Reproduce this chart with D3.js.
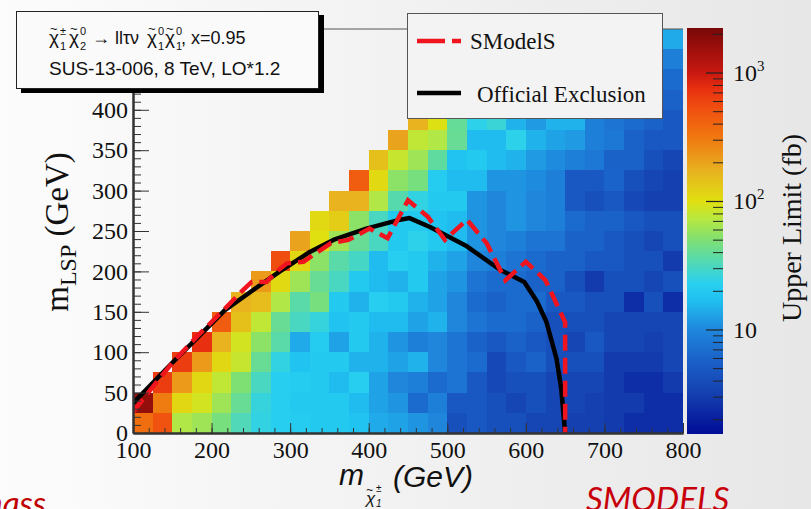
<!DOCTYPE html>
<html>
<head>
<meta charset="utf-8">
<script src="https://cdn.jsdelivr.net/npm/d3@7"></script>
<style>
  body { margin: 0; }
  svg { display: block; }
</style>
</head>
<body>
<svg id="chart" width="811" height="509"></svg>
<script>
"use strict";

// lower edges of the grid bins (GeV)
var charginoBins = [100,125,150,175,200,225,250,275,300,325,350,375,400,425,450,475,500,525,550,575,600,625,650,675,700,725,750,775];
var lspBins = [0,25,50,75,100,125,150,175,200,225,250,275,300,325,350,375,400,425,450,475];
var binWidth = 25;

// upper limit (fb), one row per lsp bin, bottom row first
var upperLimit = [
  [360,500,70,62,47,33,25,22,21,20,20,18,14,13,11.5,10,4.2,5,4.2,4.2,3.5,3.5,3.2,3.2,3.0,2.5,2.5,2.5],
  [1700,300,110,90,62,41,26,22,20,20,20,16.5,13,11.5,6.7,9,5,5,4.2,3.5,4.2,3.5,3.5,3.2,3.0,3.0,2.5,2.5],
  [null,650,220,110,78,50,31,22,21,20,16.5,22,13,10,9,6.7,7.7,5,3.8,4.2,4.2,3.5,3.5,3.5,3.0,2.5,2.5,3.0],
  [null,null,650,220,110,82,41,25,18,20,20,15,15,13,15,10,7.7,6.7,3.8,5,5.8,4.2,4.2,4.2,3.0,3.0,3.0,3.5],
  [null,null,null,750,170,90,55,36,14,21,13,20,15,11.5,9,10,7.7,5.8,5,5.8,5,4.2,3.5,5,3.5,3.5,3.2,3.5],
  [null,null,null,null,450,145,78,41,31,26,18,20,16.5,16.5,13,15,10,7.7,6.7,6.7,5.8,4.2,4.2,4.2,3.5,3.5,3.5,3.5],
  [null,null,null,null,null,170,150,70,36,47,20,15,22,20,15,13,10,6.7,5.8,6.7,6.7,5,5,4.2,4.2,2.5,4.2,2.5],
  [null,null,null,null,null,null,220,108,62,41,31,20,16.5,15,20,13,11.5,7.7,6.7,6.7,5.8,5.8,4.2,3.0,4.2,4.2,3.5,4.2],
  [null,null,null,null,null,null,null,550,110,55,36,30,16.5,22,20,15,13,10,9,7.7,6.7,5.8,5.8,5,5,4.2,4.2,3.0],
  [null,null,null,null,null,null,null,null,200,100,62,41,31,20,24,20,16.5,11.5,10,9,7.7,7.7,5.8,5.8,5,4.2,3.5,4.2],
  [null,null,null,null,null,null,null,null,null,108,125,55,31,20,20,18,16.5,11.5,10,11.5,10,9,6.7,5.8,5.8,5,4.2,4.2],
  [null,null,null,null,null,null,null,null,null,null,170,170,70,35,25,20,20,11.5,10,11.5,10,9,5,4.2,5,3.8,3.2,3.2],
  [null,null,null,null,null,null,null,null,null,null,null,450,108,55,47,21,16.5,16.5,11.5,11.5,10.5,9,5,5,6,4.2,3.5,3.2],
  [null,null,null,null,null,null,null,null,null,null,null,null,145,82,62,38,18,20,16.5,15,12,10.5,9,8,5.8,5.8,4.2,3.5],
  [null,null,null,null,null,null,null,null,null,null,null,null,null,200,78,70,41,16.5,16.5,24,15,13,12,9,8,5.8,5,5],
  [null,null,null,null,null,null,null,null,null,null,null,null,null,null,170,98,40,24,27,15,12,15,15,9,7.7,6.7,5.8,5],
  [null,null,null,null,null,null,null,null,null,null,null,null,null,null,null,250,120,50,30,20,16,13,11,9,8,7,6,5.8],
  [null,null,null,null,null,null,null,null,null,null,null,null,null,null,null,null,250,120,50,25,18,14,12,10,9,8,7,6.7],
  [null,null,null,null,null,null,null,null,null,null,null,null,null,null,null,null,null,280,130,50,25,18,14,12,10,9,8,9],
  [null,null,null,null,null,null,null,null,null,null,null,null,null,null,null,null,null,null,300,130,50,25,18,15,13,12,12,14]
];

// exclusion contours
var officialMchi = [100,150,183,217,253,287,325,355,397,440,452,478,525,567,598,614,626,639,645,650];
var officialMlsp = [37,87,119,152,177,200,224,239,253,264,266,255,231,202,187,163,138,92,55,0];
var smodelsMchi = [100,130,151,181,215,240,251,270,283,296,317,335,352,374,401,424,450,475,497,525,550,574,600,625,650,650];
var smodelsMlsp = [26,63,88,119,152,177,187,187,200,210,212,224,235,239,253,241,288,268,239,264,235,189,212,189,137,0];

var xTicks = [100,200,300,400,500,600,700,800];
var yTicks = [0,50,100,150,200,250,300,350,400];
var zMajor = [10,100,1000];
var zMinor = [2,3,4,5,6,7,8,9,20,30,40,50,60,70,80,90,200,300,400,500,600,700,800,900,2000];

var paletteStops = [0,0.1,0.18,0.256,0.33,0.37,0.42,0.48,0.53,0.573,0.65,0.73,0.8,0.85,0.89,1];
var paletteColors = ["#000c96","#1540b0","#1a60c8","#1f86dc","#20c0f0","#28d0f0","#50d8b8","#80e070","#b8e840","#e0e010","#e8b020","#f07810","#f05010","#e83010","#c81810","#780808"];

var serif = "'Liberation Serif', 'Times New Roman', serif";
var sans = "'Liberation Sans', Arial, sans-serif";

var svg = d3.select("#chart");

// slide background
var defs = svg.append("defs");
var bg = defs.append("linearGradient").attr("id", "bg").attr("x1", 0).attr("x2", 1).attr("y1", 0).attr("y2", 0);
bg.append("stop").attr("offset", 0).attr("stop-color", "#fcfcfc");
bg.append("stop").attr("offset", 1).attr("stop-color", "#e7e7e7");
svg.append("rect").attr("width", 811).attr("height", 509).attr("fill", "url(#bg)");

var x = d3.scaleLinear().domain([100, 800]).range([133, 683]);
var y = d3.scaleLinear().domain([0, 500]).range([433, 29]);
var zT = d3.scaleLog().domain([1.55, 2240]).range([0, 1]).clamp(true);
var palette = d3.scaleLinear().domain(paletteStops).range(paletteColors).interpolate(d3.interpolateRgb);
function colorOf(v) { return palette(zT(v)); }

defs.append("clipPath").attr("id", "plotClip")
  .append("rect").attr("x", 133).attr("y", 29).attr("width", 550).attr("height", 404);

// heat map cells
var cells = [];
upperLimit.forEach(function (row, r) {
  row.forEach(function (v, c) {
    if (v != null) cells.push({mchi: charginoBins[c], mlsp: lspBins[r], v: v});
  });
});
svg.append("g").attr("shape-rendering", "crispEdges")
  .selectAll("rect").data(cells).enter().append("rect")
  .attr("x", function (d) { return x(d.mchi); })
  .attr("y", function (d) { return y(d.mlsp + binWidth); })
  .attr("width", function (d) { return x(d.mchi + binWidth) - x(d.mchi); })
  .attr("height", function (d) { return y(d.mlsp) - y(d.mlsp + binWidth); })
  .attr("fill", function (d) { return colorOf(d.v); });

// contours
var line = d3.line().x(function (d) { return x(d[0]); }).y(function (d) { return y(d[1]); });
var lines = svg.append("g").attr("clip-path", "url(#plotClip)");
lines.append("path")
  .attr("d", line(d3.zip(officialMchi, officialMlsp)))
  .attr("fill", "none").attr("stroke", "#000").attr("stroke-width", 4.5).attr("stroke-linejoin", "round");
lines.append("path")
  .attr("d", line(d3.zip(smodelsMchi, smodelsMlsp)))
  .attr("fill", "none").attr("stroke", "#f0141e").attr("stroke-width", 4.5)
  .attr("stroke-dasharray", "16,7");

// frame + axes
svg.append("line").attr("x1", 133).attr("x2", 683).attr("y1", 29).attr("y2", 29).attr("stroke", "#555").attr("stroke-width", 1);

function styleAxis(g) {
  g.attr("font-family", serif).attr("font-size", 24);
  g.selectAll("text").attr("fill", "#111");
  g.selectAll("line").attr("stroke", "#333");
  g.select(".domain").attr("stroke", "#333").attr("stroke-width", 2);
}

var xMinor = d3.range(100, 801, 20);
svg.append("g").attr("transform", "translate(0,433)")
  .call(d3.axisBottom(x).tickValues(xMinor).tickSize(-5).tickSizeOuter(0).tickFormat(""))
  .call(styleAxis);
svg.append("g").attr("transform", "translate(0,433)")
  .call(d3.axisBottom(x).tickValues(xTicks).tickSize(-10).tickSizeOuter(0).tickPadding(8))
  .call(styleAxis);

var yMinor = d3.range(0, 501, 10);
svg.append("g").attr("transform", "translate(133,0)")
  .call(d3.axisLeft(y).tickValues(yMinor).tickSize(-8).tickSizeOuter(0).tickFormat(""))
  .call(styleAxis);
svg.append("g").attr("transform", "translate(133,0)")
  .call(d3.axisLeft(y).tickValues(yTicks).tickSize(-16).tickSizeOuter(0).tickPadding(5))
  .call(styleAxis);

// colour bar
var zy = d3.scaleLog().domain([1.55, 2240]).range([434, 28]);
var grad = defs.append("linearGradient").attr("id", "zbar").attr("x1", 0).attr("x2", 0).attr("y1", 1).attr("y2", 0);
paletteStops.forEach(function (s, i) {
  grad.append("stop").attr("offset", s).attr("stop-color", paletteColors[i]);
});
svg.append("rect").attr("x", 687).attr("y", 28).attr("width", 36).attr("height", 406).attr("fill", "url(#zbar)");
var zAxis = svg.append("g");
zAxis.selectAll(".minor").data(zMinor).enter().append("line")
  .attr("x1", 713).attr("x2", 723)
  .attr("y1", function (d) { return zy(d); }).attr("y2", function (d) { return zy(d); })
  .attr("stroke", "#222").attr("stroke-width", 1);
zAxis.selectAll(".major").data(zMajor).enter().append("line")
  .attr("x1", 706).attr("x2", 723)
  .attr("y1", function (d) { return zy(d); }).attr("y2", function (d) { return zy(d); })
  .attr("stroke", "#222").attr("stroke-width", 1.2);
zAxis.selectAll("text").data(zMajor).enter().append("text")
  .attr("x", 733).attr("y", function (d) { return zy(d) + 8; })
  .attr("font-family", serif).attr("font-size", 24).attr("fill", "#111")
  .each(function (d) {
    var t = d3.select(this);
    t.append("tspan").text("10");
    var e = Math.round(Math.log10(d));
    if (e > 1) t.append("tspan").attr("dy", -10).attr("font-size", 15).text(e);
  });

// axis titles
var yTitle = svg.append("text").attr("transform", "translate(68,232) rotate(-90)")
  .attr("text-anchor", "middle").attr("font-family", serif).attr("font-size", 33).attr("fill", "#111");
yTitle.append("tspan").text("m");
yTitle.append("tspan").attr("dy", 8).attr("font-size", 24).text("LSP");
yTitle.append("tspan").attr("dy", -8).text(" (GeV)");

svg.append("text").attr("transform", "translate(801,228) rotate(-90)")
  .attr("text-anchor", "middle").attr("font-family", serif).attr("font-size", 28).attr("fill", "#111")
  .text("Upper Limit (fb)");

var xt = svg.append("g").attr("font-family", sans).attr("font-style", "italic").attr("fill", "#111");
xt.append("text").attr("x", 339).attr("y", 485).attr("font-size", 30).text("m");
xt.append("text").attr("x", 366).attr("y", 504).attr("font-size", 17).text("χ");
xt.append("text").attr("x", 366).attr("y", 494).attr("font-size", 12).text("~");
xt.append("text").attr("x", 376).attr("y", 492).attr("font-size", 10).text("±");
xt.append("text").attr("x", 376).attr("y", 507).attr("font-size", 10).text("1");
xt.append("text").attr("x", 393).attr("y", 487).attr("font-size", 30).text("(GeV)");

// info box (top left)
svg.append("rect").attr("x", 21).attr("y", 15).attr("width", 303).attr("height", 78).attr("fill", "#000");
svg.append("rect").attr("x", 16.5).attr("y", 11.5).attr("width", 302).attr("height", 77)
  .attr("fill", "#fafafa").attr("stroke", "#222").attr("stroke-width", 1);
var info = svg.append("g").attr("font-family", sans).attr("fill", "#111");
function chi(px, sup, sub) {
  info.append("text").attr("x", px).attr("y", 44).attr("font-size", 19).text("χ");
  info.append("text").attr("x", px + 1).attr("y", 33).attr("font-size", 13).text("~");
  info.append("text").attr("x", px + 11).attr("y", 35).attr("font-size", 11).text(sup);
  info.append("text").attr("x", px + 11).attr("y", 50).attr("font-size", 11).text(sub);
}
chi(49, "±", "1");
chi(69, "0", "2");
info.append("text").attr("x", 92).attr("y", 44).attr("font-size", 18).text("→ llτν");
chi(147, "0", "1");
chi(165, "0", "1");
info.append("text").attr("x", 181).attr("y", 44).attr("font-size", 18).text(", x=0.95");
info.append("text").attr("x", 49).attr("y", 75).attr("font-size", 19).text("SUS-13-006, 8 TeV, LO*1.2");

// legend
var leg = svg.append("g");
leg.append("rect").attr("x", 407.5).attr("y", 13.5).attr("width", 255).attr("height", 105)
  .attr("fill", "#f3f3f3").attr("stroke", "#555").attr("stroke-width", 1);
leg.append("line").attr("x1", 417).attr("x2", 461).attr("y1", 41).attr("y2", 41)
  .attr("stroke", "#f0141e").attr("stroke-width", 4.5).attr("stroke-dasharray", "28,7");
leg.append("line").attr("x1", 417).attr("x2", 461).attr("y1", 93).attr("y2", 93)
  .attr("stroke", "#000").attr("stroke-width", 4.5);
leg.append("text").attr("x", 470).attr("y", 49).attr("font-family", serif).attr("font-size", 23).attr("fill", "#111").text("SModelS");
leg.append("text").attr("x", 477).attr("y", 102).attr("font-family", serif).attr("font-size", 23).attr("fill", "#111").text("Official Exclusion");

// slide text cut by the bottom edge
svg.append("text").attr("x", 46).attr("y", 515).attr("text-anchor", "end")
  .attr("font-family", "Lato, sans-serif").attr("font-style", "italic").attr("font-size", 33).attr("fill", "#c00000").text("mass");
svg.append("text").attr("x", 586).attr("y", 511)
  .attr("font-family", "Lato, sans-serif").attr("font-style", "italic").attr("font-size", 33).attr("fill", "#c8000a").text("SMODELS");
</script>
</body>
</html>
